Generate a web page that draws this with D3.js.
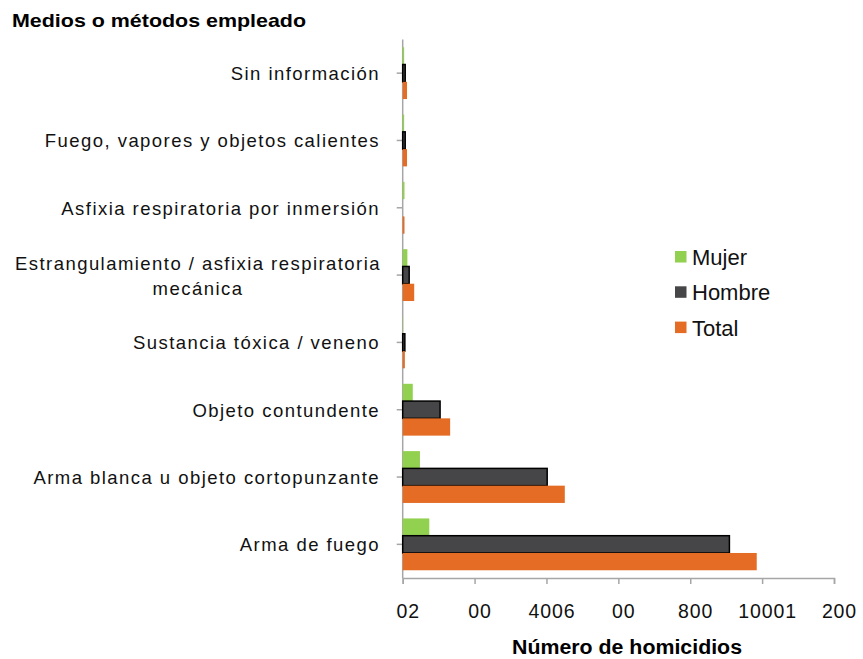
<!DOCTYPE html>
<html>
<head>
<meta charset="utf-8">
<script src="https://cdn.jsdelivr.net/npm/d3@7"></script>
<style>
  body { margin: 0; background: #fff; }
  svg { display: block; font-family: "Liberation Sans", Arial, sans-serif; }
</style>
</head>
<body>
<svg id="chart"></svg>
<script>
// categories, top to bottom as drawn
const categories = [
    "Sin información",
    "Fuego, vapores y objetos calientes",
    "Asfixia respiratoria por inmersión",
    "Estrangulamiento / asfixia respiratoria|mecánica",
    "Sustancia tóxica / veneno",
    "Objeto contundente",
    "Arma blanca u objeto cortopunzante",
    "Arma de fuego"
];
const seriesNames = ["Mujer", "Hombre", "Total"];
const mujer  = [4, 4, 5, 13, 1, 28, 48, 74];
const hombre = [7, 7, 0, 18, 6, 104, 402, 909];
const total  = [12, 12, 5, 32, 6, 132, 451, 985];
const tickValues = [0, 200, 400, 600, 800, 1000, 1200];
// tick labels as printed on the picture
const tickLabels = ["02", "00", "4006", "00", "800", "10001", "200"];

const colors = { Mujer: "#92d050", Hombre: "#464648", Total: "#e46c24" };

const width = 863, height = 659;
const margin = { top: 39.5, right: 29, bottom: 81, left: 402.7 };

const svg = d3.select("#chart").attr("width", width).attr("height", height);

const rows = categories.map((c, i) => ({
    cat: c, Mujer: mujer[i], Hombre: hombre[i], Total: total[i]
}));

const x = d3.scaleLinear().domain([0, 1200]).range([margin.left, width - margin.right]);
const y0 = d3.scaleBand().domain(categories)
    .range([margin.top, height - margin.bottom])
    .paddingInner(0.23).paddingOuter(0.115);
const y1 = d3.scaleBand().domain(seriesNames).range([0, y0.bandwidth()]);

// left axis (drawn first so the bars sit on top of it)
const yAxis = svg.append("g").attr("transform", `translate(${margin.left},0)`);
yAxis.append("line")
    .attr("y1", margin.top).attr("y2", height - margin.bottom)
    .attr("stroke", "#a6a6a6").attr("stroke-width", 1.5);
yAxis.selectAll("line.tick")
    .data(categories)
    .join("line")
    .attr("class", "tick")
    .attr("x1", -6).attr("x2", 0)
    .attr("y1", d => y0(d) + y0.bandwidth() / 2)
    .attr("y2", d => y0(d) + y0.bandwidth() / 2)
    .attr("stroke", "#a6a6a6").attr("stroke-width", 1.5);

// bottom axis
const xAxis = svg.append("g")
    .attr("transform", `translate(0,${height - margin.bottom})`)
    .call(d3.axisBottom(x).tickValues(tickValues).tickSize(6).tickPadding(20)
        .tickFormat((d, i) => tickLabels[i]));
xAxis.select(".domain").attr("stroke", "#a6a6a6").attr("stroke-width", 1.5);
xAxis.selectAll(".tick line").attr("stroke", "#a6a6a6").attr("stroke-width", 1.5);
xAxis.selectAll(".tick text")
    .attr("dx", 5)
    .style("font-size", "19.5px")
    .style("font-family", "'Liberation Sans', Arial, sans-serif")
    .style("letter-spacing", "0.9px")
    .attr("fill", "#111");

// bars
const groups = svg.append("g").selectAll("g")
    .data(rows)
    .join("g")
    .attr("transform", d => `translate(0,${y0(d.cat)})`);

groups.selectAll("rect")
    .data(d => seriesNames.map(s => ({ s, v: d[s] })))
    .join("rect")
    .attr("x", x(0))
    .attr("y", d => y1(d.s))
    .attr("width", d => x(d.v) - x(0))
    .attr("height", y1.bandwidth())
    .attr("fill", d => colors[d.s])
    .attr("stroke", d => d.s === "Hombre" && d.v > 0 ? "#000" : "none")
    .attr("stroke-width", 1.5);

const labels = svg.append("g")
    .style("font-size", "18.5px")
    .style("letter-spacing", "1.45px")
    .attr("fill", "#111");

categories.forEach(c => {
    const cy = y0(c) + y0.bandwidth() / 2;
    const parts = c.split("|");
    if (parts.length === 1) {
        labels.append("text")
            .attr("x", 380).attr("y", cy + 7)
            .attr("text-anchor", "end")
            .text(c);
    } else {
        const t = labels.append("text")
            .attr("x", 198).attr("y", cy - 5)
            .attr("text-anchor", "middle");
        parts.forEach((p, i) => {
            t.append("tspan").attr("x", 198).attr("dy", i === 0 ? 0 : 25).text(p);
        });
    }
});

// titles
svg.append("text")
    .attr("x", 12).attr("y", 27)
    .attr("textLength", 294).attr("lengthAdjust", "spacingAndGlyphs")
    .style("font-size", "19px").style("font-weight", "bold")
    .text("Medios o métodos empleado");

svg.append("text")
    .attr("x", 627).attr("y", 654)
    .attr("text-anchor", "middle")
    .attr("textLength", 230).attr("lengthAdjust", "spacingAndGlyphs")
    .style("font-size", "20px").style("font-weight", "bold")
    .text("Número de homicidios");

// legend
const legend = svg.append("g").attr("transform", "translate(675,257)");
const li = legend.selectAll("g")
    .data(seriesNames)
    .join("g")
    .attr("transform", (d, i) => `translate(0,${i * 35.3})`);
li.append("rect")
    .attr("x", 0).attr("y", -6).attr("width", 11.5).attr("height", 11.5)
    .attr("fill", d => colors[d]);
li.append("text")
    .attr("x", 17).attr("y", 8)
    .style("font-size", "22px")
    .attr("fill", "#111")
    .text(d => d);
</script>
</body>
</html>
